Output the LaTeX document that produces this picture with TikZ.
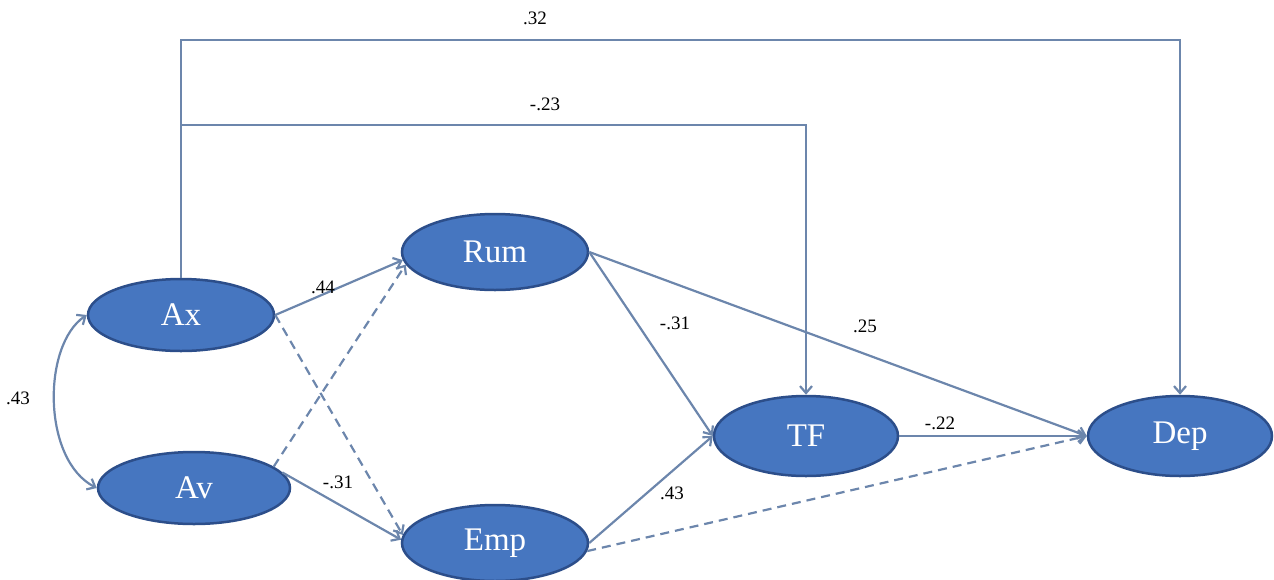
\documentclass[tikz,border=0pt]{standalone}
\usepackage{fontspec}
\setmainfont{Liberation Serif}
\usetikzlibrary{arrows.meta,shapes.geometric}
\definecolor{nodefill}{RGB}{70,118,192}
\definecolor{nodeedge}{RGB}{44,78,138}
\definecolor{linkcol}{RGB}{108,134,172}
\begin{document}
\begin{tikzpicture}[x=1pt,y=-1pt,
  latent/.style={ellipse,fill=nodefill,draw=nodeedge,line width=2.5pt,
    minimum width=186pt,minimum height=72pt,inner sep=0pt,text=white,
    font=\fontsize{33}{36}\selectfont},
  link/.style={draw=linkcol,line width=2.2pt,
    -{Straight Barb[length=7pt,width=12pt]}},
  twoway/.style={link,{Straight Barb[length=7pt,width=12pt]}-{Straight Barb[length=7pt,width=12pt]}},
  weak/.style={link,dash pattern=on 9pt off 6pt},
  coef/.style={font=\fontsize{19}{21}\selectfont,text=black,inner sep=1pt}]
\useasboundingbox (0,0) rectangle (1274,579);

% latent variables
\node[latent] (Ax)  at (181,315) {Ax};
\node[latent,minimum width=192pt] (Av) at (194,488) {Av};
\node[latent,minimum height=76pt] (Rum) at (495,252) {Rum};
\node[latent,minimum height=76pt] (Emp) at (495,543) {Emp};
\node[latent,minimum width=184pt,minimum height=80pt] (TF)  at (806,436) {TF};
\node[latent,minimum width=184pt,minimum height=80pt] (Dep) at (1180,436) {Dep};

% levels of the two direct paths along the top
\coordinate (hiA) at (0,40);
\coordinate (hiB) at (0,125);

% direct paths from Ax
\draw[link] (Ax.north) -- (Ax.north |- hiA) -| (Dep.north);
\draw[link] (Ax.north |- hiB) -| (TF.north);

% correlation between Ax and Av
\draw[twoway] (Ax.west) .. controls (42,345) and (42,460) .. (Av.west);

% paths to the mediators
\draw[link] (Ax.east) -- (Rum.185);
\draw[weak] (Ax.east) -- (Emp.175);
\draw[weak] (Av.15) -- (Rum.188);
\draw[link] (Av.10) -- (Emp.178);

% paths to TF and Dep
\draw[link] (Rum.east) -- (TF.west);
\draw[link] (Emp.east) -- (TF.west);
\draw[link] (Rum.east) -- (Dep.west);
\draw[weak] (Emp.355) -- (Dep.west);
\draw[link] (TF.east) -- (Dep.west);

% path coefficients
\node[coef] (c32)  at (535,18)  {.32};
\node[coef] (c23)  at (545,104) {-.23};
\node[coef] (c44)  at (323,287) {.44};
\node[coef] (c31a) at (338,482) {-.31};
\node[coef] (c31b) at (675,323) {-.31};
\node[coef] (c43a) at (672,493) {.43};
\node[coef] (c25)  at (865,326) {.25};
\node[coef] (c22)  at (940,423) {-.22};
\node[coef] (c43b) at (18,398)  {.43};
\end{tikzpicture}
\end{document}
